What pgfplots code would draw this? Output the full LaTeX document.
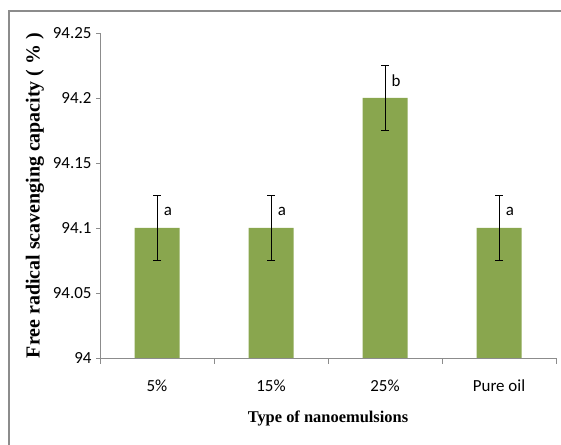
\documentclass[border=0pt]{standalone}
\usepackage{pgfplots}
\pgfplotsset{compat=1.18}
\usepackage{pgfplotstable}
\usepackage{fontspec}
\setmainfont{Carlito}
\newfontfamily\tnr{Liberation Serif}
\definecolor{bargreen}{RGB}{137,166,78}
\definecolor{axgray}{RGB}{140,140,140}

\pgfplotstableread{
x y err lab
0 94.1 0.025 a
1 94.1 0.025 a
2 94.2 0.025 b
3 94.1 0.025 a
}\scavdata

\begin{document}
\begin{tikzpicture}[x=1bp,y=1bp]
\useasboundingbox (0,0) rectangle (561,445);
% outer frame, only left and top edges fall inside the picture
\draw[axgray, line width=1.2bp] (9,-5) -- (9,434) -- (570,434);
\begin{axis}[
  at={(100bp,87bp)}, anchor=south west,
  scale only axis,
  width=456bp, height=325bp,
  font=\fontsize{17}{19}\selectfont,
  /pgf/number format/assume math mode=true,
  axis lines=left,
  axis line style={axgray, line width=0.8bp, -},
  xmin=-0.5, xmax=3.5,
  ymin=94, ymax=94.25,
  ytick={94,94.05,94.1,94.15,94.2,94.25},
  yticklabel style={/pgf/number format/fixed, /pgf/number format/precision=2, xshift=-1bp},
  xtick={0,1,2,3},
  xticklabels={5\%,15\%,25\%,Pure oil},
  xticklabel style={yshift=-14bp},
  minor xtick={-0.5,0.5,1.5,2.5,3.5},
  tick align=outside,
  major tick length=4bp,
  minor tick length=6bp,
  x tick style={draw=none},
  minor x tick style={axgray, line width=0.8bp, draw=axgray},
  y tick style={axgray, line width=0.8bp},
  every axis y label/.style={at={(axis description cs:-0.143,0.5)}, rotate=90, anchor=center},
  every axis x label/.style={at={(axis description cs:0.5,-0.185)}, anchor=center},
  ylabel={\tnr\bfseries\fontsize{20}{22}\selectfont Free radical scavenging capacity ( \% )},
  xlabel={\tnr\bfseries\fontsize{16.5}{19}\selectfont Type of nanoemulsions},
  clip=false,
]
\addplot[ybar, bar width=45bp, fill=bargreen, draw=none,
  error bars/.cd, y dir=both, y explicit,
  error bar style={black, line width=0.8bp},
  error mark options={black, rotate=90, mark size=4bp, line width=0.8bp}]
  table[x=x, y=y, y error=err]{\scavdata};
\addplot[only marks, mark=none,
  nodes near coords, point meta=explicit symbolic,
  every node near coord/.append style={anchor=center, xshift=11bp, yshift=17bp, font=\fontsize{17}{19}\selectfont}]
  table[x=x, y=y, meta=lab]{\scavdata};
\end{axis}
\end{tikzpicture}
\end{document}
